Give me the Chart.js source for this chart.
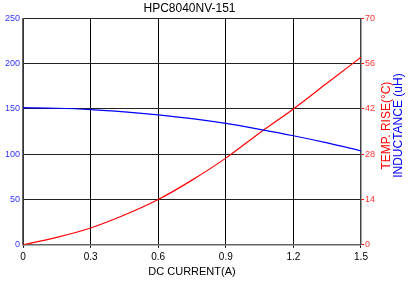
<!DOCTYPE html>
<html>
<head>
<meta charset="utf-8">
<script src="https://cdn.jsdelivr.net/npm/chart.js@4/dist/chart.umd.min.js"></script>
<style>
html,body{margin:0;padding:0;background:#fff;}
#wrap{width:414px;height:287px;}
</style>
</head>
<body>
<div id="wrap"><canvas id="c" width="414" height="287"></canvas></div>
<script>
const title = "HPC8040NV-151";
const xTitle = "DC CURRENT(A)";
const tempTitle = "TEMP. RISE(\u00B0C)";
const indTitle = "INDUCTANCE (uH)";
const current = [0, 0.15, 0.3, 0.45, 0.6, 0.75, 0.9, 1.05, 1.2, 1.35, 1.5];
const inductance = [151.5, 150.8, 149.3, 146.8, 143.5, 139.3, 134, 127.5, 120.4, 112.5, 103.8];
const tempRise = [0, 2.3, 5.2, 9.2, 14, 20, 26.8, 34.6, 42, 50, 58];

const indData = current.map((x, i) => ({x: x, y: inductance[i]}));
const tempData = current.map((x, i) => ({x: x, y: tempRise[i]}));

const sideTitles = {
  id: 'sideTitles',
  afterDraw(chart) {
    const ctx = chart.ctx;
    const a = chart.chartArea;
    const cy = (a.top + a.bottom) / 2 - 6;
    ctx.save();
    ctx.font = '12px "Liberation Sans"';
    ctx.textAlign = 'center';
    ctx.textBaseline = 'middle';
    ctx.translate(a.right + 26, cy);
    ctx.rotate(-Math.PI / 2);
    ctx.fillStyle = '#ff0000';
    ctx.fillText(tempTitle, 0, 0);
    ctx.fillStyle = '#0000ff';
    ctx.fillText(indTitle, 0, 12);
    ctx.restore();
  }
};

new Chart(document.getElementById('c'), {
  type: 'scatter',
  data: {
    datasets: [
      {data: indData, yAxisID: 'y', showLine: true, borderColor: '#0000ff', borderWidth: 1.2, pointRadius: 0, cubicInterpolationMode: 'monotone'},
      {data: tempData, yAxisID: 'y2', showLine: true, borderColor: '#ff0000', borderWidth: 1.2, pointRadius: 0, cubicInterpolationMode: 'monotone'}
    ]
  },
  options: {
    responsive: false,
    animation: false,
    layout: {padding: {left: 3, right: 38, top: 0, bottom: 8}},
    plugins: {
      legend: {display: false},
      tooltip: {enabled: false},
      title: {display: true, text: title, color: '#000', font: {family: 'Liberation Sans', size: 12, weight: 'normal'}, padding: {top: 1, bottom: 3}}
    },
    scales: {
      x: {
        type: 'linear', min: 0, max: 1.5,
        ticks: {stepSize: 0.3, color: '#000', font: {family: 'Liberation Sans', size: 10}, padding: 3, callback: v => (Math.round(v * 10) / 10).toString()},
        grid: {color: '#000', lineWidth: 1, tickLength: 3},
        border: {color: '#666', width: 1.5},
        title: {display: true, text: xTitle, color: '#000', font: {family: 'Liberation Sans', size: 11}, padding: {top: 0, bottom: 0}}
      },
      y: {
        position: 'left', min: 0, max: 250,
        ticks: {stepSize: 50, color: '#3333ff', font: {family: 'Liberation Sans', size: 9}, padding: 2},
        grid: {color: '#222', lineWidth: 1, tickLength: 1},
        border: {color: '#666', width: 1.5}
      },
      y2: {
        position: 'right', min: 0, max: 70,
        ticks: {stepSize: 14, color: '#ff3333', font: {family: 'Liberation Sans', size: 9}, padding: 1},
        grid: {drawOnChartArea: false, color: '#ff0000', tickLength: 3},
        border: {color: '#444', width: 1.5}
      }
    }
  },
  plugins: [sideTitles]
});
</script>
</body>
</html>
